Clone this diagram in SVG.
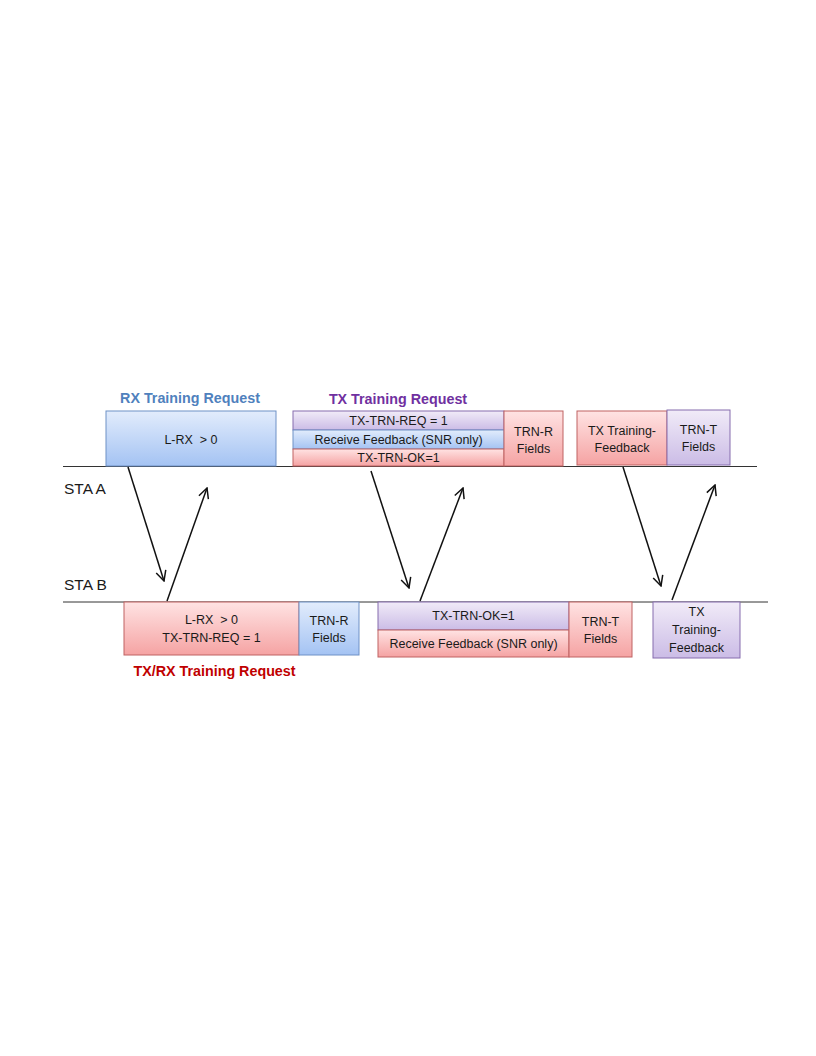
<svg xmlns="http://www.w3.org/2000/svg" width="816" height="1056" viewBox="0 0 816 1056">
<style>
text{font-family:"Liberation Sans",Arial,sans-serif;fill:#1a1a1a;text-anchor:middle;white-space:pre}
.t{font-size:12.5px}
.h{font-size:14.3px;font-weight:bold}
.lab{font-size:15.5px;text-anchor:start}
.blue{fill:url(#gB);stroke:#6e91c6;stroke-width:1}
.red{fill:url(#gR);stroke:#bf6262;stroke-width:1}
.pur{fill:url(#gP);stroke:#866cae;stroke-width:1}
.axis{stroke:#333;stroke-width:1}
.arr{stroke:#111;stroke-width:1.5;fill:none;marker-end:url(#ah)}
</style>
<defs>
<linearGradient id="gB" x1="0" y1="0" x2="0" y2="1"><stop offset="0" stop-color="#e2ecfc"/><stop offset="1" stop-color="#a4c3f3"/></linearGradient>
<linearGradient id="gR" x1="0" y1="0" x2="0" y2="1"><stop offset="0" stop-color="#ffe3e3"/><stop offset="1" stop-color="#f5a3a3"/></linearGradient>
<linearGradient id="gP" x1="0" y1="0" x2="0" y2="1"><stop offset="0" stop-color="#f1ebf8"/><stop offset="1" stop-color="#cbbce6"/></linearGradient>
<marker id="ah" viewBox="0 0 12 12" refX="11" refY="6" markerWidth="12" markerHeight="12" markerUnits="userSpaceOnUse" orient="auto">
<polyline points="1,1 11,6 1,11" fill="none" stroke="#111" stroke-width="1.5"/>
</marker>
</defs>
<g id="axes">
<line class="axis" x1="63" y1="466.5" x2="757" y2="466.5"/>
<line class="axis" x1="63" y1="602" x2="768" y2="602"/>
<text class="lab" x="64" y="494">STA A</text>
<text class="lab" x="64" y="590">STA B</text>
</g>
<g id="rx-request">
<text class="h" x="190" y="403" style="fill:#4f81bd">RX Training Request</text>
<rect class="blue" x="106" y="411" width="170" height="55"/>
<text class="t" x="191" y="444">L-RX  &gt; 0</text>
</g>
<g id="tx-request">
<text class="h" x="398" y="404" style="fill:#7030a0">TX Training Request</text>
<rect class="pur" x="293" y="411" width="211" height="19"/>
<text class="t" x="398.5" y="425">TX-TRN-REQ = 1</text>
<rect class="blue" x="293" y="430" width="211" height="19"/>
<text class="t" x="398.5" y="444">Receive Feedback (SNR only)</text>
<rect class="red" x="293" y="449" width="211" height="17"/>
<text class="t" x="398.5" y="462">TX-TRN-OK=1</text>
</g>
<g id="trn-r-a">
<rect class="red" x="504" y="411" width="59" height="55"/>
<text class="t" x="533.5" y="436">TRN-R</text>
<text class="t" x="533.5" y="453">Fields</text>
</g>
<g id="tx-feedback-a">
<rect class="red" x="577" y="411" width="90" height="54"/>
<text class="t" x="622" y="435">TX Training-</text>
<text class="t" x="622" y="452">Feedback</text>
</g>
<g id="trn-t-a">
<rect class="pur" x="667" y="410" width="63" height="55"/>
<text class="t" x="698.5" y="434">TRN-T</text>
<text class="t" x="698.5" y="451">Fields</text>
</g>
<g id="txrx-request">
<rect class="red" x="124" y="602" width="175" height="53"/>
<text class="t" x="211.5" y="624">L-RX  &gt; 0</text>
<text class="t" x="211.5" y="642">TX-TRN-REQ = 1</text>
<text class="h" x="214.5" y="676" style="fill:#c00000">TX/RX Training Request</text>
</g>
<g id="trn-r-b">
<rect class="blue" x="299" y="602" width="60" height="53"/>
<text class="t" x="329" y="625">TRN-R</text>
<text class="t" x="329" y="642">Fields</text>
</g>
<g id="tx-ok-b">
<rect class="pur" x="378" y="602" width="191" height="28"/>
<text class="t" x="473.5" y="620">TX-TRN-OK=1</text>
<rect class="red" x="378" y="630" width="191" height="27"/>
<text class="t" x="473.5" y="648">Receive Feedback (SNR only)</text>
</g>
<g id="trn-t-b">
<rect class="red" x="569" y="602" width="63" height="55"/>
<text class="t" x="600.5" y="626">TRN-T</text>
<text class="t" x="600.5" y="643">Fields</text>
</g>
<g id="tx-feedback-b">
<rect class="pur" x="653" y="602" width="87" height="56"/>
<text class="t" x="696.5" y="616">TX</text>
<text class="t" x="696.5" y="634">Training-</text>
<text class="t" x="696.5" y="652">Feedback</text>
</g>
<g id="connectors">
<line class="arr" x1="128" y1="467" x2="164" y2="581"/>
<line class="arr" x1="167" y1="601" x2="207" y2="488"/>
<line class="arr" x1="371" y1="471" x2="409" y2="588"/>
<line class="arr" x1="420" y1="601" x2="463" y2="488"/>
<line class="arr" x1="623" y1="467" x2="661" y2="586"/>
<line class="arr" x1="672" y1="600" x2="715" y2="485"/>
</g>
</svg>
